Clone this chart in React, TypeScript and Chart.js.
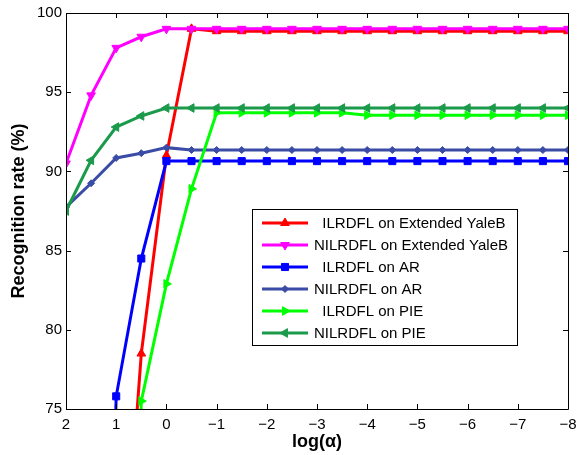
import React, { useEffect, useRef } from 'react';
import { Chart, registerables } from 'chart.js';

Chart.register(...registerables);

// ---------- data ----------
const xValues = [2, 1.5, 1, 0.5, 0, -0.5, -1, -1.5, -2, -2.5, -3, -3.5, -4, -4.5, -5, -5.5, -6, -6.5, -7, -7.5, -8];
const xTicks = [2, 1, 0, -1, -2, -3, -4, -5, -6, -7, -8];
const yTicks = [75, 80, 85, 90, 95, 100];

const seriesLabels = [
  '  ILRDFL on Extended YaleB',
  'NILRDFL on Extended YaleB',
  '  ILRDFL on AR',
  'NILRDFL on AR',
  '  ILRDFL on PIE',
  'NILRDFL on PIE',
];

const ilrdflYaleB = [45, 50, 57, 78.5, 91.0, 99.0, 98.85, 98.85, 98.85, 98.85, 98.85, 98.85, 98.85, 98.85, 98.85, 98.85, 98.85, 98.85, 98.85, 98.85, 98.85];
const nilrdflYaleB = [90.5, 94.8, 97.8, 98.5, 99.0, 99.0, 99.0, 99.0, 99.0, 99.0, 99.0, 99.0, 99.0, 99.0, 99.0, 99.0, 99.0, 99.0, 99.0, 99.0, 99.0];
const ilrdflAR = [20, 20, 75.8, 84.5, 90.65, 90.65, 90.65, 90.65, 90.65, 90.65, 90.65, 90.65, 90.65, 90.65, 90.65, 90.65, 90.65, 90.65, 90.65, 90.65, 90.65];
const nilrdflAR = [87.75, 89.25, 90.85, 91.15, 91.5, 91.35, 91.35, 91.35, 91.35, 91.35, 91.35, 91.35, 91.35, 91.35, 91.35, 91.35, 91.35, 91.35, 91.35, 91.35, 91.35];
const ilrdflPIE = [20, 22, 25, 75.5, 82.9, 88.9, 93.7, 93.7, 93.7, 93.7, 93.7, 93.7, 93.55, 93.55, 93.55, 93.55, 93.55, 93.55, 93.55, 93.55, 93.55];
const nilrdflPIE = [87.5, 90.7, 92.8, 93.5, 94.0, 94.0, 94.0, 94.0, 94.0, 94.0, 94.0, 94.0, 94.0, 94.0, 94.0, 94.0, 94.0, 94.0, 94.0, 94.0, 94.0];

const seriesValues = [ilrdflYaleB, nilrdflYaleB, ilrdflAR, nilrdflAR, ilrdflPIE, nilrdflPIE];
const seriesColors = ['#ff0000', '#ff00ff', '#0000ff', '#3a4ca6', '#00ff00', '#1b9a4b'];
const seriesMarkers = ['triangle', 'triangle', 'rect', 'rectRot', 'triangle', 'triangle'];
const seriesRotation = [0, 180, 0, 0, 90, 270];
const seriesRadius = [5, 5, 5, 3.5, 5, 5];

const FONT = '"Liberation Sans", Arial, sans-serif';

const fmt = (v: number) => (v < 0 ? '\u2212' + Math.abs(v) : String(v));

function drawMarker(ctx: CanvasRenderingContext2D, style: string, rotation: number, r: number, x: number, y: number) {
  ctx.beginPath();
  if (style === 'triangle') {
    let rad = (rotation * Math.PI) / 180;
    ctx.moveTo(x + Math.sin(rad) * r, y - Math.cos(rad) * r);
    rad += (2 * Math.PI) / 3;
    ctx.lineTo(x + Math.sin(rad) * r, y - Math.cos(rad) * r);
    rad += (2 * Math.PI) / 3;
    ctx.lineTo(x + Math.sin(rad) * r, y - Math.cos(rad) * r);
    ctx.closePath();
  } else if (style === 'rect') {
    const s = Math.SQRT1_2 * r;
    ctx.rect(x - s, y - s, 2 * s, 2 * s);
  } else {
    ctx.moveTo(x, y - r);
    ctx.lineTo(x + r, y);
    ctx.lineTo(x, y + r);
    ctx.lineTo(x - r, y);
    ctx.closePath();
  }
  ctx.fill();
  ctx.stroke();
}

const framePlugin = {
  id: 'frame',
  afterDatasetsDraw(chart: any) {
    const { ctx, chartArea: a, scales } = chart;
    ctx.save();
    ctx.strokeStyle = '#000';
    ctx.lineWidth = 1;
    ctx.beginPath();
    ctx.rect(Math.round(a.left) + 0.5, Math.round(a.top) + 0.5, Math.round(a.right - a.left), Math.round(a.bottom - a.top));
    ctx.stroke();
    const tl = 5;
    ctx.beginPath();
    xTicks.forEach((v) => {
      const px = Math.round(scales.x.getPixelForValue(v)) + 0.5;
      ctx.moveTo(px, a.bottom);
      ctx.lineTo(px, a.bottom - tl);
      ctx.moveTo(px, a.top);
      ctx.lineTo(px, a.top + tl);
    });
    yTicks.forEach((v) => {
      const py = Math.round(scales.y.getPixelForValue(v)) + 0.5;
      ctx.moveTo(a.left, py);
      ctx.lineTo(a.left + tl, py);
      ctx.moveTo(a.right, py);
      ctx.lineTo(a.right - tl, py);
    });
    ctx.stroke();
    ctx.restore();
  },
  afterDraw(chart: any) {
    const { ctx, chartArea: a } = chart;
    const left = a.right - 316;
    const right = a.right - 51;
    const top = a.top + 196;
    const bottom = a.top + 332;
    ctx.save();
    ctx.fillStyle = '#fff';
    ctx.fillRect(left, top, right - left, bottom - top);
    ctx.strokeStyle = '#000';
    ctx.lineWidth = 1;
    ctx.strokeRect(Math.round(left) + 0.5, Math.round(top) + 0.5, Math.round(right - left), Math.round(bottom - top));
    ctx.font = '15px ' + FONT;
    ctx.textBaseline = 'middle';
    ctx.textAlign = 'left';
    seriesLabels.forEach((label, i) => {
      const y = top + 14 + i * 22;
      ctx.strokeStyle = seriesColors[i];
      ctx.lineWidth = 3;
      ctx.beginPath();
      ctx.moveTo(left + 10, y);
      ctx.lineTo(left + 56, y);
      ctx.stroke();
      ctx.fillStyle = seriesColors[i];
      ctx.lineWidth = 1;
      drawMarker(ctx, seriesMarkers[i], seriesRotation[i], seriesRadius[i], left + 33, y);
      ctx.fillStyle = '#000';
      ctx.fillText(label, left + 62, y + 1);
    });
    ctx.restore();
  },
};

export default function App() {
  const ref = useRef<HTMLCanvasElement | null>(null);
  useEffect(() => {
    if (!ref.current) return;
    Chart.defaults.font.family = FONT;
    Chart.defaults.color = '#000';
    const datasets = seriesLabels.map((label, i) => ({
      label,
      data: xValues.map((x, j) => ({ x, y: seriesValues[i][j] })),
      borderColor: seriesColors[i],
      backgroundColor: seriesColors[i],
      borderWidth: 3,
      pointStyle: seriesMarkers[i],
      pointRotation: seriesRotation[i],
      pointRadius: seriesRadius[i],
      pointBorderWidth: 1,
      pointBackgroundColor: seriesColors[i],
      pointBorderColor: seriesColors[i],
      tension: 0,
      fill: false,
      order: seriesLabels.length - i,
    }));
    const chart = new Chart(ref.current, {
      type: 'line',
      data: { datasets },
      options: {
        animation: false,
        responsive: false,
        devicePixelRatio: 1,
        layout: { padding: { left: 0, top: 13, right: 9, bottom: 0 } },
        plugins: { legend: { display: false }, tooltip: { enabled: false } },
        scales: {
          x: {
            type: 'linear',
            min: -8,
            max: 2,
            reverse: true,
            grid: { display: false, drawTicks: false },
            border: { display: false },
            afterBuildTicks: (s: any) => {
              s.ticks = xTicks.map((v) => ({ value: v }));
            },
            afterFit: (s: any) => {
              s.height = 46;
              s.paddingLeft = 0;
              s.paddingRight = 0;
            },
            ticks: {
              padding: 7,
              font: { size: 15 },
              color: '#000',
              maxRotation: 0,
              autoSkip: false,
              callback: (v: any) => fmt(Number(v)),
            },
            title: {
              display: true,
              text: 'log(\u03b1)',
              font: { size: 18, weight: 'bold' },
              color: '#000',
              padding: { top: 0, bottom: 2 },
            },
          },
          y: {
            type: 'linear',
            min: 75,
            max: 100,
            grid: { display: false, drawTicks: false },
            border: { display: false },
            afterBuildTicks: (s: any) => {
              s.ticks = yTicks.map((v) => ({ value: v }));
            },
            afterFit: (s: any) => {
              s.width = 66;
              s.paddingTop = 0;
              s.paddingBottom = 0;
            },
            ticks: {
              padding: 4,
              font: { size: 15 },
              color: '#000',
              callback: (v: any) => fmt(Number(v)),
            },
            title: {
              display: true,
              text: 'Recognition rate (%)',
              font: { size: 18, weight: 'bold' },
              color: '#000',
              padding: { top: 8, bottom: 0 },
            },
          },
        },
      },
      plugins: [framePlugin],
    } as any);
    return () => chart.destroy();
  }, []);
  return (
    <div style={{ position: 'absolute', left: 0, top: 0, width: 577, height: 455, background: '#fff' }}>
      <canvas ref={ref} width={577} height={455} style={{ display: 'block', width: 577, height: 455 }} />
    </div>
  );
}
